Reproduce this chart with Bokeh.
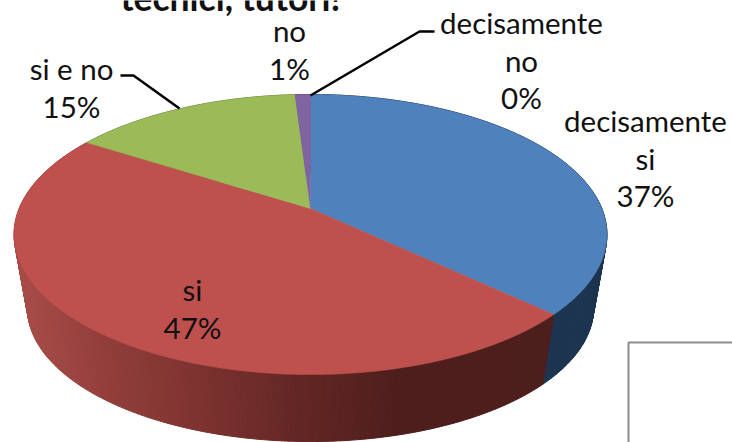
import math
from bokeh.plotting import figure
from bokeh.embed import file_html
from bokeh.resources import INLINE
from bokeh.core.properties import value

# data
categories = ["decisamente si", "si", "si e no", "no", "decisamente no"]
percentages = [37, 47, 15, 1, 0]
top_colors = ["#4F81BD", "#BE504D", "#9BBB59", "#8064A2", "#4BACC6"]
side_colors = ["#1D3450", None, "#5E7536", "#4D3C62", "#2D6777"]
title_text = "tecnici, tutori!"

W, H = 732, 442
# perspective pie geometry (screen pixels of the chart area)
CX, CY = 310.0, 208.0
A, B, K = 291.3, 135.2, 0.1857
DEPTH_DY, DEPTH_SCALE = 74.5, 0.955


def project(pct, bottom=False):
    t = 2 * math.pi * pct / 100.0
    sx, cy = math.sin(t), math.cos(t)
    w = 1 + K * cy
    s = DEPTH_SCALE if bottom else 1.0
    return CX + s * A * sx / w, CY + (DEPTH_DY if bottom else 0) - s * B * cy / w


def red_side(x):
    stops = [(15, (168, 76, 72)), (100, (146, 62, 59)), (200, (124, 50, 47)),
             (300, (98, 38, 36)), (400, (78, 30, 28)), (700, (74, 29, 27))]
    for (x0, c0), (x1, c1) in zip(stops, stops[1:]):
        if x <= x1:
            f = max(0.0, (x - x0) / (x1 - x0))
            return "#%02x%02x%02x" % tuple(round(a + (b - a) * f) for a, b in zip(c0, c1))
    return "#4a1d1b"


p = figure(width=W, height=H, x_range=(0, W), y_range=(H, 0), output_backend="svg",
           toolbar_location=None, min_border=0, outline_line_color=None,
           background_fill_color="white", border_fill_color="white")
p.axis.visible = False
p.grid.visible = False

# side wall
STEP = 0.25
start = 0.0
for i, pct in enumerate(percentages):
    n = round(pct / STEP)
    for j in range(n):
        a0, a1 = start + j * STEP, start + (j + 1) * STEP
        x0, y0 = project(a0)
        x1, y1 = project(a1)
        x2, y2 = project(a1, True)
        x3, y3 = project(a0, True)
        col = side_colors[i] or red_side((x0 + x1) / 2)
        p.patch([x0, x1, x2, x3], [y0, y1, y2, y3], fill_color=col, line_color=col, line_width=1)
    start += pct

# top face
start = 0.0
for i, pct in enumerate(percentages):
    if pct > 0:
        n = max(2, round(pct / 0.1))
        pts = [project(start + pct * k / n) for k in range(n + 1)]
        xs = [CX] + [q[0] for q in pts]
        ys = [CY] + [q[1] for q in pts]
        p.patch(xs, ys, fill_color=top_colors[i], line_color=top_colors[i], line_width=0.5)
    start += pct

# leader lines
p.line([120, 133, 179], [75, 75, 108], line_color="black", line_width=2.5)
p.line([310, 419, 434], [95, 31, 31], line_color="black", line_width=2.5)

# leftover frame of another box
p.line([733, 628, 628], [342, 342, 443], line_color="#8c8c8c", line_width=2)

# labels: (category index, centre x, centre y of first line)
FONT = value("Lato")
LH = 37.5
label_pos = {0: (645, 120), 1: (192, 289), 2: (71, 68), 3: (289, 30), 4: (521, 22)}
label_lines = {0: ["decisamente", "si"], 1: ["si"], 2: ["si e no"], 3: ["no"], 4: ["decisamente", "no"]}
for i, pct in enumerate(percentages):
    x, y = label_pos[i]
    lines = label_lines[i] + [f"{pct}%"]
    for k, t in enumerate(lines):
        p.text([x], [y + k * LH], text=[t], text_font=FONT, text_font_size="29.5px", text_color="#111111",
               text_align="center", text_baseline="middle")

p.text([230], [-3], text=[title_text], text_font=FONT, text_font_size="35.5px", text_font_style=value("bold"),
       text_color="#111111", text_align="center", text_baseline="alphabetic")

open("out.html", "w").write(file_html(p, INLINE))
